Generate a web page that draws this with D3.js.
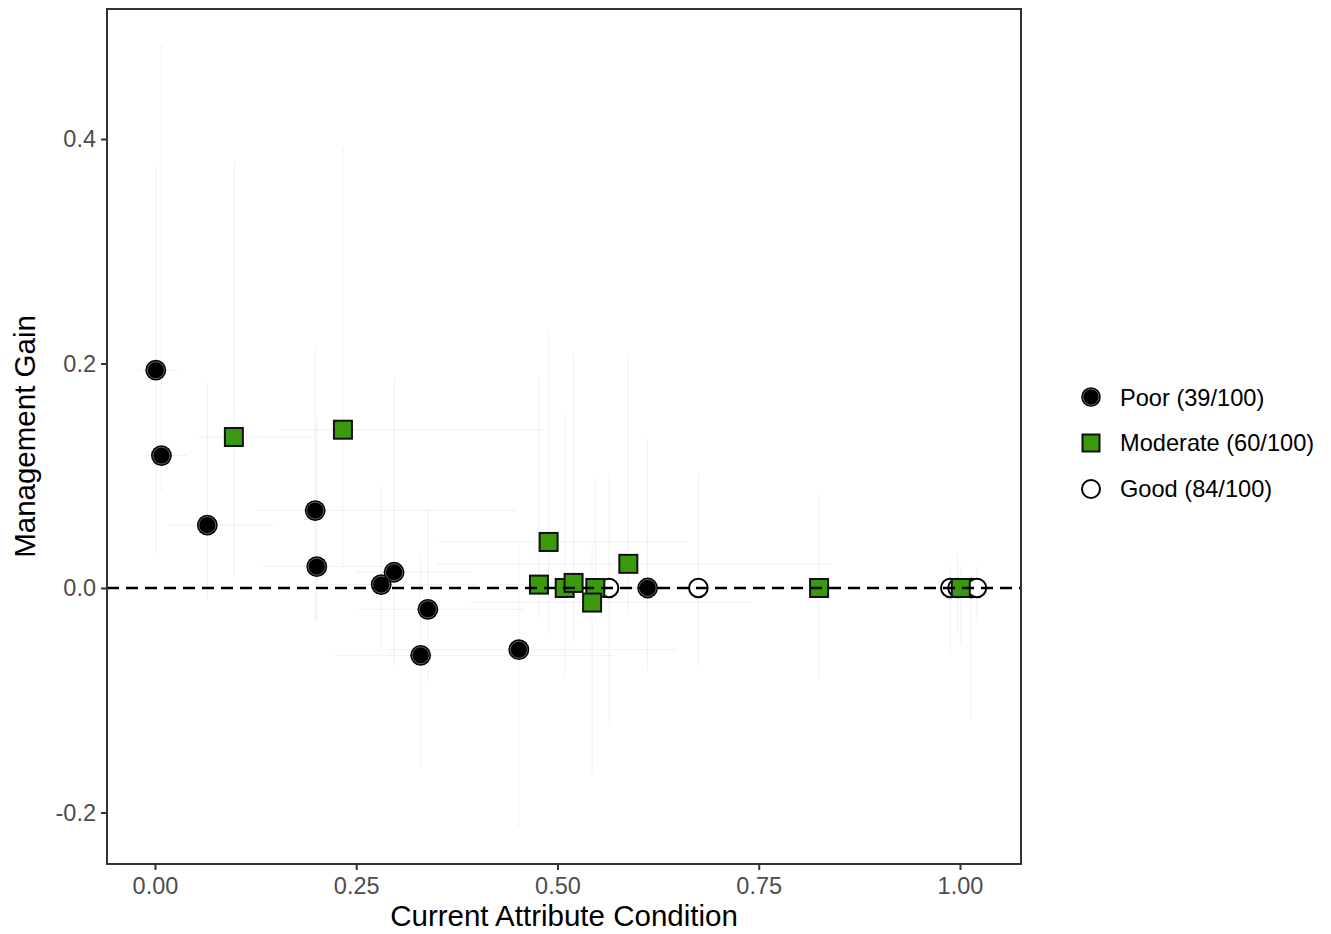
<!DOCTYPE html>
<html>
<head>
<meta charset="utf-8">
<script src="https://cdn.jsdelivr.net/npm/d3@7"></script>
<style>
  body { margin: 0; background: #fff; }
  text { font-family: "Liberation Sans", Arial, sans-serif; }
</style>
</head>
<body>
<div id="container"></div>
<script>
/* CONSTANTS AND GLOBALS */
const width = 1331,
  height = 934,
  margin = { top: 9, bottom: 70, left: 107, right: 310 };

// Poor condition points (black circles)
const poorX    = [0.001, 0.008, 0.065, 0.199, 0.201, 0.281, 0.297, 0.339, 0.330, 0.452, 0.612];
const poorY    = [0.194, 0.118, 0.056, 0.069, 0.019, 0.003, 0.014, -0.019, -0.060, -0.055, 0.000];
const poorXLo  = [-0.02, -0.01, 0.016, 0.127, 0.134, 0.200, 0.250, 0.252, 0.224, 0.289, 0.560];
const poorXHi  = [0.03, 0.04, 0.149, 0.448, 0.300, 0.400, 0.391, 0.460, 0.569, 0.648, 0.660];
const poorYLo  = [0.030, 0.085, -0.011, -0.030, -0.030, -0.057, -0.069, -0.084, -0.160, -0.213, -0.073];
const poorYHi  = [0.375, 0.484, 0.183, 0.214, 0.150, 0.090, 0.187, 0.070, 0.030, 0.040, 0.134];

// Moderate condition points (green squares)
const modX     = [0.098, 0.2335, 0.489, 0.477, 0.509, 0.520, 0.547, 0.543, 0.588, 0.825, 1.001];
const modY     = [0.1345, 0.141, 0.041, 0.003, 0.000, 0.0045, 0.000, -0.013, 0.0215, 0.000, 0.000];
const modXLo   = [0.053, 0.155, 0.351, 0.420, 0.460, 0.470, 0.500, 0.390, 0.350, 0.780, 0.990];
const modXHi   = [0.200, 0.482, 0.662, 0.540, 0.560, 0.580, 0.600, 0.740, 0.841, 0.920, 1.010];
const modYLo   = [0.009, 0.020, -0.040, -0.027, -0.078, -0.048, -0.030, -0.167, -0.023, -0.080, -0.050];
const modYHi   = [0.381, 0.392, 0.229, 0.187, 0.154, 0.208, 0.098, 0.037, 0.206, 0.083, 0.020];

// Good condition points (open circles)
const goodX    = [0.564, 0.675, 0.988, 0.997, 1.014, 1.021];
const goodY    = [0.000, 0.000, 0.000, 0.000, 0.000, 0.000];
const goodXLo  = [0.530, 0.640, 0.970, 0.985, 1.000, 1.010];
const goodXHi  = [0.600, 0.710, 1.000, 1.010, 1.025, 1.030];
const goodYLo  = [-0.120, -0.070, -0.060, -0.040, -0.118, -0.030];
const goodYHi  = [0.103, 0.102, 0.020, 0.030, 0.010, 0.020];

const xTicks = [0, 0.25, 0.5, 0.75, 1];
const yTicks = [-0.2, 0, 0.2, 0.4];
const legendLabels = ["Poor (39/100)", "Moderate (60/100)", "Good (84/100)"];
const greenFill = "#3a990c";

const toRows = (xs, ys, xlo, xhi, ylo, yhi) =>
  xs.map((x, i) => ({ x, y: ys[i], xlo: xlo[i], xhi: xhi[i], ylo: ylo[i], yhi: yhi[i] }));

const poor = toRows(poorX, poorY, poorXLo, poorXHi, poorYLo, poorYHi);
const moderate = toRows(modX, modY, modXLo, modXHi, modYLo, modYHi);
const good = toRows(goodX, goodY, goodXLo, goodXHi, goodYLo, goodYHi);

/* SCALES */
const xScale = d3.scaleLinear()
  .domain([-0.0596, 1.0758])
  .range([margin.left, width - margin.right]);

const yScale = d3.scaleLinear()
  .domain([-0.2459, 0.5158])
  .range([height - margin.bottom, margin.top]);

/* HTML ELEMENTS */
const svg = d3.select("#container")
  .append("svg")
  .attr("width", width)
  .attr("height", height);

svg.append("defs").append("clipPath").attr("id", "panel")
  .append("rect")
  .attr("x", margin.left).attr("y", margin.top)
  .attr("width", width - margin.left - margin.right)
  .attr("height", height - margin.top - margin.bottom);

const plot = svg.append("g").attr("clip-path", "url(#panel)");

// faint error bars
const allRows = poor.concat(moderate, good);
plot.selectAll("line.vbar")
  .data(allRows)
  .join("line")
  .attr("class", "vbar")
  .attr("x1", d => xScale(d.x)).attr("x2", d => xScale(d.x))
  .attr("y1", d => yScale(d.ylo)).attr("y2", d => yScale(d.yhi))
  .attr("stroke", "#000").attr("stroke-opacity", 0.06).attr("stroke-width", 1);

plot.selectAll("line.hbar")
  .data(allRows)
  .join("line")
  .attr("class", "hbar")
  .attr("x1", d => xScale(d.xlo)).attr("x2", d => xScale(d.xhi))
  .attr("y1", d => yScale(d.y)).attr("y2", d => yScale(d.y))
  .attr("stroke", "#000").attr("stroke-opacity", 0.06).attr("stroke-width", 1);

// points
plot.selectAll("circle.good")
  .data(good)
  .join("circle")
  .attr("class", "good")
  .attr("cx", d => xScale(d.x)).attr("cy", d => yScale(d.y))
  .attr("r", 9.3)
  .attr("fill", "#fff").attr("stroke", "#000").attr("stroke-width", 2);

plot.selectAll("rect.moderate")
  .data(moderate)
  .join("rect")
  .attr("class", "moderate")
  .attr("x", d => xScale(d.x) - 9).attr("y", d => yScale(d.y) - 9)
  .attr("width", 18).attr("height", 18)
  .attr("fill", greenFill).attr("stroke", "#111").attr("stroke-width", 2);

const poorG = plot.selectAll("g.poor")
  .data(poor)
  .join("g")
  .attr("class", "poor")
  .attr("transform", d => `translate(${xScale(d.x)},${yScale(d.y)})`);
poorG.append("circle").attr("r", 10.4).attr("fill", "#000");
poorG.append("circle").attr("r", 8.5).attr("fill", "none")
  .attr("stroke", "#fff").attr("stroke-opacity", 0.55).attr("stroke-width", 0.7);

// zero reference line
plot.append("line")
  .attr("x1", margin.left).attr("x2", width - margin.right)
  .attr("y1", yScale(0)).attr("y2", yScale(0))
  .attr("stroke", "#000").attr("stroke-width", 2.6)
  .attr("stroke-dasharray", "12,7");

// panel border
svg.append("rect")
  .attr("x", margin.left).attr("y", margin.top)
  .attr("width", width - margin.left - margin.right)
  .attr("height", height - margin.top - margin.bottom)
  .attr("fill", "none").attr("stroke", "#333").attr("stroke-width", 2);

/* AXES */
const xAxis = d3.axisBottom(xScale)
  .tickValues(xTicks)
  .tickFormat(d3.format(".2f"))
  .tickSize(6).tickPadding(7);

const yAxis = d3.axisLeft(yScale)
  .tickValues(yTicks)
  .tickFormat(d => d3.format(".1f")(d).replace("−", "-"))
  .tickSize(6).tickPadding(5);

const gx = svg.append("g")
  .attr("transform", `translate(0,${height - margin.bottom})`)
  .call(xAxis);
const gy = svg.append("g")
  .attr("transform", `translate(${margin.left},0)`)
  .call(yAxis);

[gx, gy].forEach(g => {
  g.select(".domain").remove();
  g.selectAll(".tick line").attr("stroke", "#333").attr("stroke-width", 2);
  g.selectAll(".tick text")
    .attr("fill", "#4d4d4d")
    .style("font-size", "23.5px")
    .style("font-family", "'Liberation Sans', Arial, sans-serif");
});

svg.append("text")
  .attr("x", (margin.left + width - margin.right) / 2)
  .attr("y", 926)
  .attr("text-anchor", "middle")
  .style("font-size", "29.5px")
  .text("Current Attribute Condition");

svg.append("text")
  .attr("transform", `translate(35,${(margin.top + height - margin.bottom) / 2}) rotate(-90)`)
  .attr("text-anchor", "middle")
  .style("font-size", "29.5px")
  .text("Management Gain");

/* LEGEND */
const legend = svg.append("g").attr("transform", "translate(1091,397)");
const step = 46;

const k0 = legend.append("g");
k0.append("circle").attr("r", 9.8).attr("fill", "#000");
k0.append("circle").attr("r", 8).attr("fill", "none")
  .attr("stroke", "#fff").attr("stroke-opacity", 0.55).attr("stroke-width", 0.7);

legend.append("rect")
  .attr("x", -8.5).attr("y", step - 8.5)
  .attr("width", 17).attr("height", 17)
  .attr("fill", greenFill).attr("stroke", "#111").attr("stroke-width", 2);

legend.append("circle")
  .attr("cy", step * 2).attr("r", 9)
  .attr("fill", "#fff").attr("stroke", "#000").attr("stroke-width", 2);

legend.selectAll("text")
  .data(legendLabels)
  .join("text")
  .attr("x", 29)
  .attr("y", (d, i) => i * step)
  .attr("dy", "0.36em")
  .style("font-size", "23.6px")
  .attr("fill", "#000")
  .text(d => d);
</script>
</body>
</html>
